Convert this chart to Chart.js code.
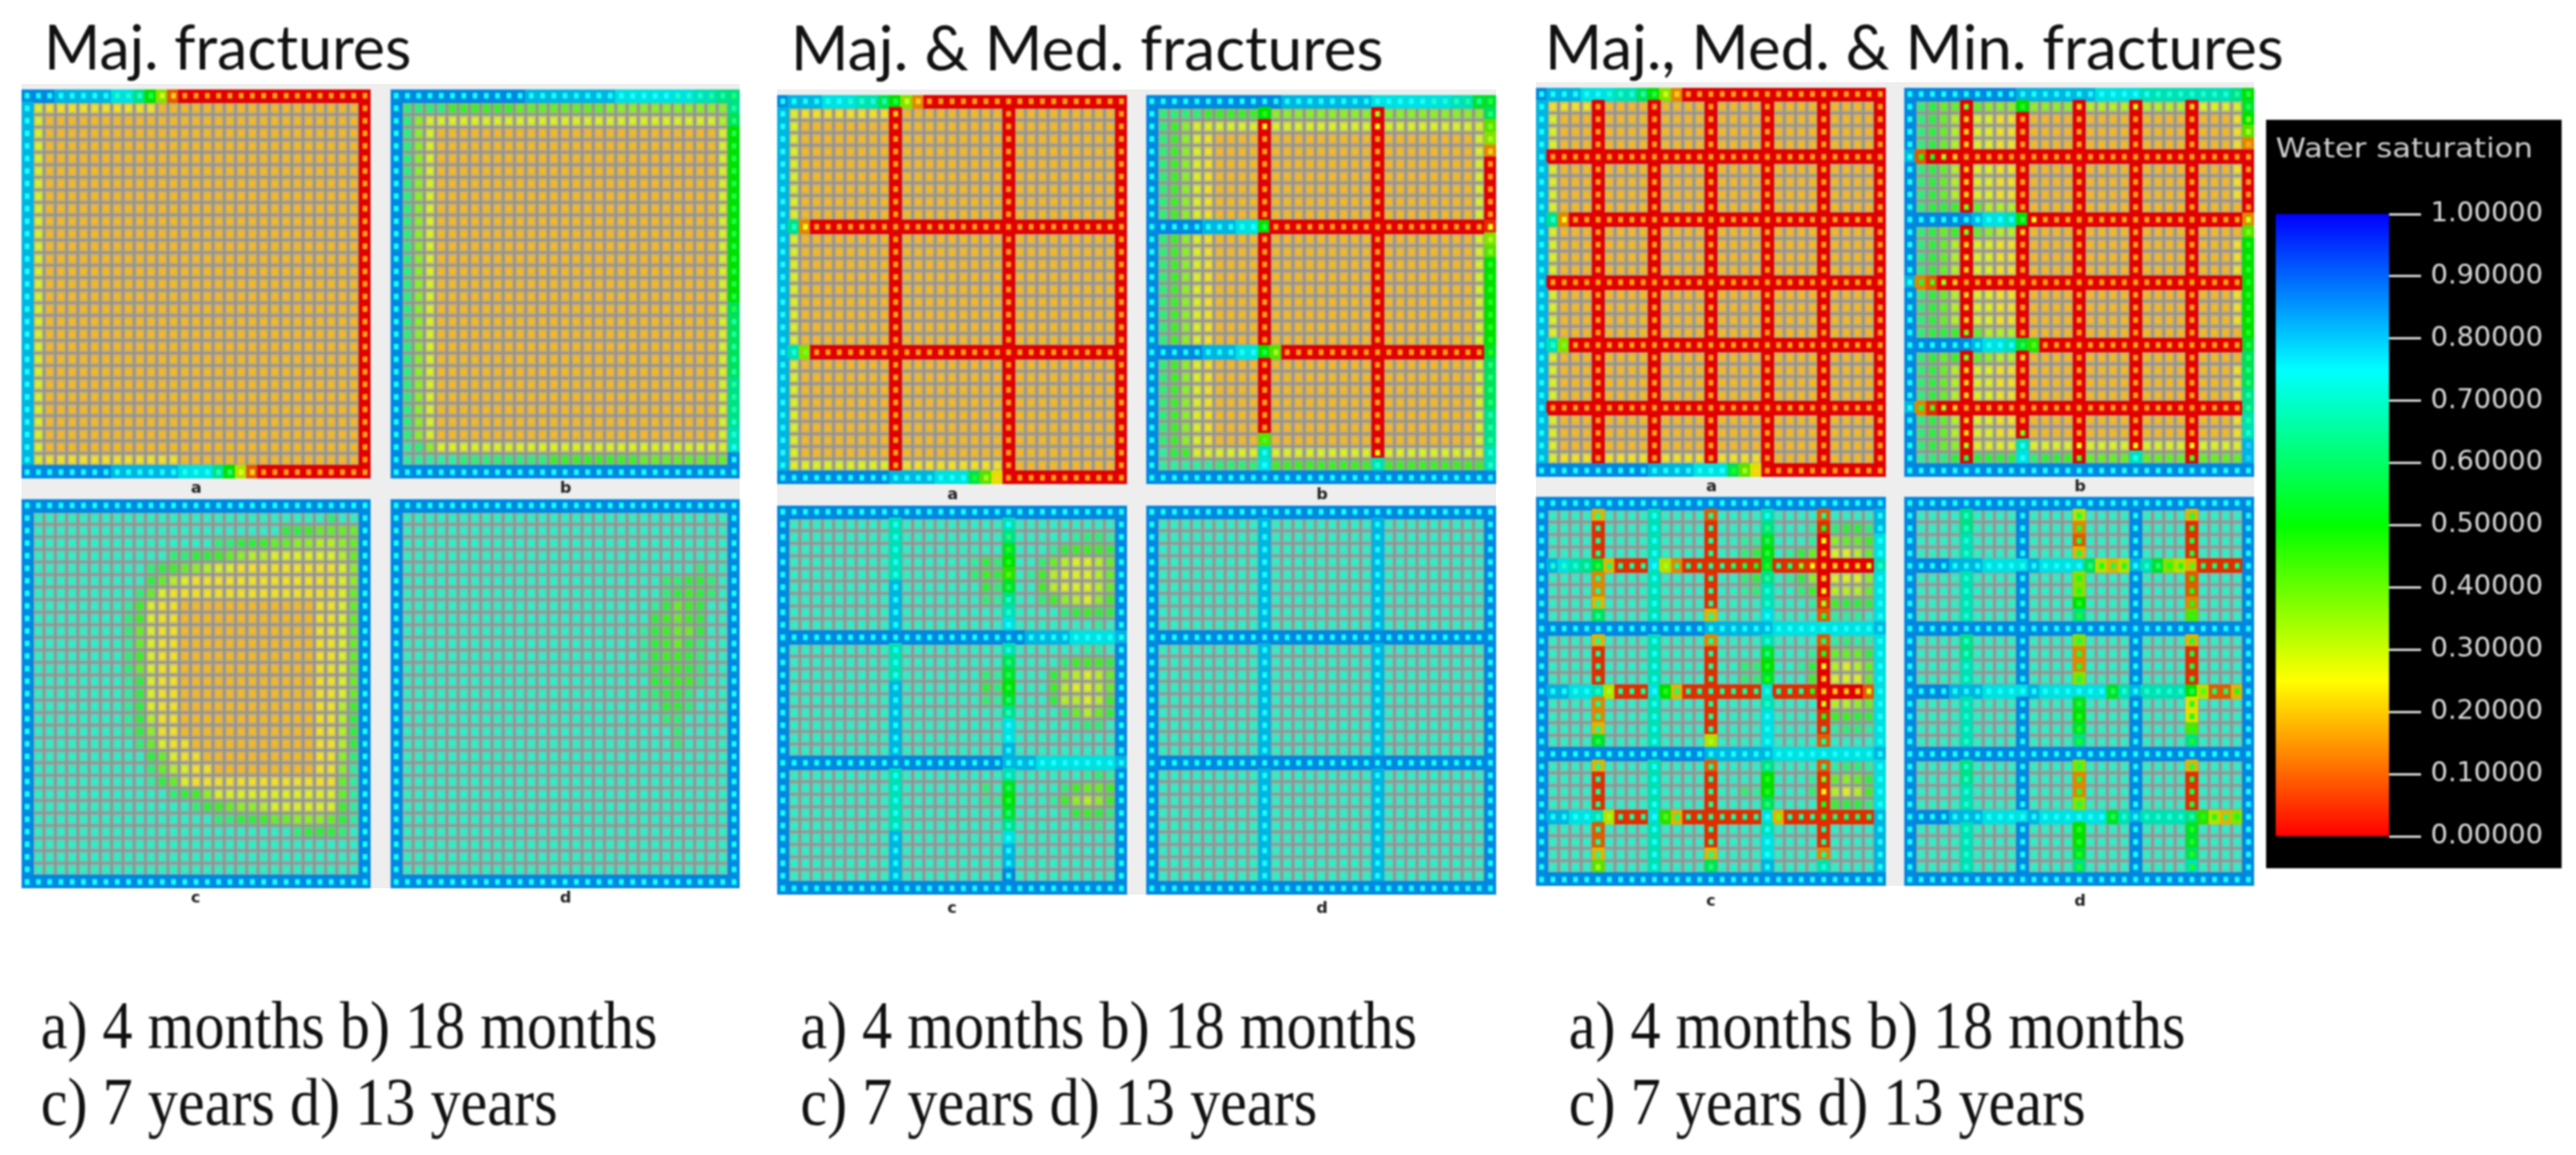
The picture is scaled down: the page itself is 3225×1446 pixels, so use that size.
<!DOCTYPE html>
<html>
<head>
<meta charset="utf-8">
<title>Water saturation</title>
<script src="https://cdn.jsdelivr.net/npm/chart.js@4"></script>
<style>
  html, body { margin: 0; padding: 0; background: #fff; }
  #page { position: relative; width: 3225px; height: 1446px; overflow: hidden; background: #fff; }
  #page canvas { position: absolute; filter: blur(1px); }
  .band { position: absolute; background: #eeeeee; }
  .txt { position: absolute; white-space: pre; transform-origin: 0 0; filter: blur(0.9px); }
</style>
</head>
<body>
<div id="page"></div>
<script>
// Saturation is written as one letter per cell: a=0.00, b=0.05, c=0.10 ... u=1.00
// Rows are run length coded, "pf29d" means p, f and then 29 times d
const satCodes = "abcdefghijklmnopqrstu";

const titles = ["Maj. fractures", "Maj. & Med. fractures", "Maj., Med. & Min. fractures"];
const captionTop = "a) 4 months b) 18 months";
const captionBottom = "c) 7 years d) 13 years";
const panelLetters = ["a", "b", "c", "d"];
const scaleTitle = "Water saturation";
const scaleTicks = [0, 0.1, 0.2, 0.3, 0.4, 0.5, 0.6, 0.7, 0.8, 0.9, 1];
const colorStops = [[0, "#ff0000"], [0.25, "#ffff00"], [0.5, "#00ff00"], [0.75, "#00ffff"], [1, "#0000ff"]];

// --- Maj. fractures ---
const majADots = ["8p3olge17d", "pf10e19d",
  "pf29d", "pf29d", "pf29d", "pf29d", "pf29d", "pf29d", "pf29d", "pf29d", "pf29d",
  "pf29d", "pf29d", "pf29d", "pf29d", "pf29d", "pf29d", "pf29d", "pf29d", "pf29d",
  "pf29d", "pf29d", "pf29d", "pf29d", "pf29d", "pf29d", "pf29d", "pf29d", "pf29d",
  "pf12e17d", "17pomge10d"];
const majALines = [["v", 0, "31q"], ["v", 30, "31a"], ["h", 0, "3r5q2pnkhc17a"], ["h", 30, "8r6q3pnkgc10a"]];

const majBDots = ["25p3o2nm", "p4l6j8i11hn", "plh26fgm",
  "plhf25dfl", "plhf25dfl", "plhf25dfl", "plhf25dfl", "plhf25dfl", "plhf25dfl", "plhf25dfl", "plhf25dfl",
  "plhf25dfl", "plhf25dfl", "plhf25dfl", "plhf25dfl", "plhf25dfl", "plhf25dfl", "plhf25dfl",
  "plhf25dfn", "plhf25dfn", "plhf25dfn", "plhf25dfn", "plhf25dfn", "plhf25dfn", "plhf25dfn", "plhf25dfn",
  "plhf25dfo", "plhf25dfo", "pmlh26fp", "p5m8l8j8ip", "31p"];
const majBLines = [["v", 0, "31r"], ["v", 30, "2nm14k6m4n2or"], ["h", 0, "12r8q7p2on"], ["h", 30, "31r"]];

const majCDots = ["31p", "p26nl2np", "p22nkkjiiiip", "p16nllkkjiihhgghip", "p12nllkkjihgg6fgip",
  "p10nlkjihgff9efhp", "p10nkigf13efhp", "p9nlif15efip",
  "p8nmjf2e12d2efip", "p8nljf2e12d2efip", "p8nlif2e12d2efip", "p8nmif2e12d2efip", "p8nljf2e12d2efip",
  "p8nlif2e12d2efip", "p8nmkf2e12d2efip", "p8nmkf2e12d2efip", "p8nmkf2e12d2egjp", "p8nmkg2e12d2egkp",
  "p8nmkh2e12d2egkp", "p9nlif2e11d2egkp", "p10nkif2e10d2ehlp", "p10nligf2e9d2ehmp", "p10nmkif13eimp",
  "p12nlkjh11fimp", "p14nlkjihhg6fjmp", "p16nllkkjiihhhikmp", "p23nlkkkl" + "np",
  "p29np", "p29np", "p29np", "31p"];
const edgesBlue = [["v", 0, "31r"], ["v", 30, "31r"], ["h", 0, "31r"], ["h", 30, "31r"]];

const majDDots = ["31p", "p29np", "p29np", "p29np", "p29np", "p26nl2np", "p23nllkkl" + "np", "p23nlkjkl" + "np",
  "p22nmkijk2np", "p22nkjijk2np", "p21nmkjiik2np", "p21nmkjikl2np", "p21nmkjjkl2np", "p21nmkjjkl2np",
  "p22nkkjjl2np", "p21nmlkkl3np", "p22nmkkl3np", "p23nll4np", "p24nl4np", "p24nl4np",
  "p29np", "p29np", "p29np", "p29np", "p29np", "p29np", "p29np", "p29np", "p29np", "p29np", "31p"];

// --- Maj. & Med. fractures ---
const medADots = ["6p3onlge18d", "pf9e20d",
  "pf29d", "pf29d", "pf29d", "pf29d", "pf29d", "pf29d", "pf29d", "pf29d",
  "pof28d",
  "pf29d", "pf29d", "pf29d", "pf29d", "pf29d", "pf29d", "pf29d", "pf29d", "pf29d",
  "poi28d",
  "pf29d", "pf29d", "pf29d", "pf29d", "pf29d", "pf29d", "pf29d", "pf29d",
  "p9fd9e11d", "17pkhe11d"];
const medALines = [["v", 0, "31q"], ["v", 10, "p29aq"], ["v", 20, "31a"], ["v", 30, "31a"],
  ["h", 0, "r3q3p2omkhd18a"], ["h", 10, "qnd28a"], ["h", 20, "qoh28a"], ["h", 30, "10r4q3pmif11a"]];

const medBDots = ["25p3o2nl", "p4l5jk19hm", "pljh26fi", "pljhfe23dfh", "pljhfe23dfe",
  "pljhfe23dfd", "pljhfe23dfd", "pljhfe23dfd", "pljhfe23dfd", "pljhfe23dfd",
  "10pl19df", "pljhfe23dfh", "pljhfe23dfi",
  "pljhfe23dfk", "pljhfe23dfk", "pljhfe23dfk", "pljhfe23dfk", "pljhfe23dfk", "pljhfe23dfk", "pljhfe23dfk",
  "10plh18dk", "pljhfe23dfm", "pljhfe23dfm", "pljhfe23dfm", "pljhfe23dfm",
  "pljhfe23dfn", "pljhfe23dfn", "pljhfe4dj18dfn", "pmkj6fp19fo", "p5m4lp9jo9jo", "31p"];
const medBLines = [["v", 0, "31r"], ["v", 10, "qk25aiopr"], ["v", 20, "q28aor"], ["v", 30, "lmihd5abhi7kl4m3n2or"],
  ["h", 0, "12r8q7p2ol"], ["h", 10, "5r3q2pk19ab"], ["h", 20, "5r3q2pki18al"], ["h", 30, "31r"]];

const medCDots = ["31p", "p9np9np9np", "p9np9nm5nmllmp", "p9np9nk3nmkjjjkp", "p9np6nmklk2nligffgip",
  "p9np6nljkjnmjgfffgip", "p9np7nkll2njgfffgip", "p9np7nlmo2nljhgfhjp", "p9np9no4nlkjkkp", "p9np9np7nmnp",
  "31p", "p9np9no6nmmnp", "p9np9nm4nljjjkp", "p9np7nlml3nkhgfgip", "p9np7nkll3njgffgip",
  "p9np7nlmm3nkggfgjp", "p9np9no4nligikp", "p9np9np5nmllnp", "p9np9np9np", "p9np9np9np",
  "31p", "p9np9no6nmlmp", "p9np7nlnl4nljiijp", "p9np7nmml3nmjhghjp", "p9np9nm4nmkjklp",
  "p9np9no6nmmnp", "p9np9np9np", "p9np9np9np", "p9np9np9np", "p9np9np9np", "31p"];
const medCLines = [["v", 0, "31r"], ["v", 30, "31r"], ["v", 10, "r5o4qr3o6qr5o4qr"],
  ["v", 20, "ronlkjlnopqomlklnppqqolklnpqqrr"],
  ["h", 0, "31r"], ["h", 30, "31r"], ["h", 10, "22r4q4pq"], ["h", 20, "20r3q7pq"]];

const medDDots = ["31p", "p9np9np9np", "p9np9np9np", "p9np9np9np", "p9np9np9np", "p9np9np9np", "p9np9np9np",
  "p9np9np9np", "p9np9np9np", "p9np9np9np", "31p", "p9np9np9np", "p9np9np9np", "p9np9np9np", "p9np9np9np",
  "p9np9np9np", "p9np9np9np", "p9np9np9np", "p9np9np9np", "p9np9np9np", "31p", "p9np9np9np", "p9np9np9np",
  "p9np9np9np", "p9np9np9np", "p9np9np9np", "p9np9np9np", "p9np9np9np", "p9np9np9np", "p9np9np9np", "31p"];
const medDLines = [["v", 0, "31r"], ["v", 30, "31r"], ["v", 10, "31q"], ["v", 20, "31q"],
  ["h", 0, "31r"], ["h", 30, "31r"], ["h", 10, "31r"], ["h", 20, "31r"]];

// --- Maj., Med. & Min. fractures ---
const minADots = ["6p3onlge18d", "p4e26d", "pf29d", "pf29d", "pf29d", "p30d",
  "pf29d", "pf29d", "pf29d", "pf29d", "pof28d",
  "pf29d", "pf29d", "pf29d", "pf29d", "p30d",
  "pf29d", "pf29d", "pf29d", "pf29d", "poi28d",
  "pf29d", "pf29d", "pf29d", "pf29d", "p30d",
  "pf29d", "pf29d", "pf29d", "pf3ed4ed4ed4e11d", "17pkhe11d"];
const minALines = [["v", 0, "31q"], ["v", 5, "p29aq"], ["v", 10, "p29aq"], ["v", 15, "p29aq"], ["v", 20, "31a"],
  ["v", 25, "31a"], ["v", 30, "31a"],
  ["h", 0, "r3q3p2omkhd18a"], ["h", 5, "q30a"], ["h", 10, "qnd28a"], ["h", 15, "q30a"], ["h", 20, "qoh28a"],
  ["h", 25, "q30a"], ["h", 30, "10r4q3pmif11a"]];

const minBDots = ["22p7onl", "plk4i3hk4he9ge4fl", "plkigeffee19dei", "plkigeffee19deh", "plkigeffee19ded",
  "pkkhe26d", "plkigeffee19ded", "plkigeffee19ded", "plkigeffee19ded", "plkkjiiggg21d",
  "10plf18dg", "plkijiihgge19di", "plkigeffee19dek", "plkigeffee19dek", "plkigeffee19dek",
  "pljhe25dk", "plkigeffee19dek", "plkigeffee19dek", "plkigeffee19dek", "plkkjiiggg20dk",
  "10plj18dl", "plkijiihgge19dm", "plkigeffee19dem", "plkigeffee19dem", "plkigeffee19den",
  "pljhe25dn", "plkigeffee19den", "plkigeffeei18deo", "plkihh4fp19fq", "pmllklkkkkplkkjj4ip4ij4iq", "31p"];
const minBLines = [["v", 0, "31r"], ["v", 5, "r9ar9ar9ar"], ["v", 10, "rk8ak9al7aopr"], ["v", 15, "p29ar"],
  ["v", 20, "p28aor"], ["v", 25, "p29ar"], ["v", 30, "klkid5adi8kl3m2n2o2qr"],
  ["h", 0, "10r7q4p8onk"], ["h", 5, "qc29a"], ["h", 10, "6rqppok19ad"], ["h", 15, "qdc27ak"],
  ["h", 20, "6rqppolj18al"], ["h", 25, "qdb27an"], ["h", 30, "31r"]];

const minCDots = ["31p", "p9np9np9np", "p9np9nm3nmklkklp", "p9np7nmml3nmfhiijp", "p9np7nlklnmkieffgip",
  "p4olm3nphn4nmlkknmif4ego", "p9np7nlknnmkhefffhp", "p9np7nmlo2nljfgggip", "p9np9no3nmhjkkkp", "p9np9np4nlmmmnp",
  "31p", "p9np9no4nmmlmmp", "p9np9nm3nmkiiikp", "p9np7nllk2nmkfgfgip", "p9np7nllk3njefffip",
  "5poh3npkm7no3nke3egp", "p9np9no4nggghip", "p9np9np4nkjjkkp", "p9np9np5nmllmp", "p4nl4np4nh4np9np",
  "31p", "p9np9nn5nmllmp", "p9np9nk3nmiihikp", "p9np7nlmk3nlfgfgjp", "p9np9nm4nkjkklp",
  "5poh3npjm7npi3nl4mp", "p9np9np9np", "p9np9np9np", "p9np9np9np", "p4nh4np4nm4np4no4np", "31p"];
const minCLines = [["v", 0, "31r"], ["v", 5, "re3blddemreb2bodd" + "elreb2bocceir"], ["v", 10, "r9oq9oq9or"],
  ["v", 15, "rc7beqd7bgqc6bemr"], ["v", 20, "ronlkknooppolkloopppp" + "nkkmooppqr"], ["v", 25, "rcb5abcpcb4a2bcpc6bdor"],
  ["v", 30, "r2q17pq5p4qr"],
  ["h", 0, "31r"], ["h", 5, "rqponlebbbpgd7bl4b5ao"], ["h", 10, "15r6q9pq"], ["h", 15, "rqqppog3bpke7bp4b4acp"],
  ["h", 20, "15r6q9pq"], ["h", 25, "rqqppog3bpje7bpe8bq"], ["h", 30, "31r"]];

const minDDots = ["31p", "p4no4np4nl4np4nl4np", "p4no4np4nl4np4nl4np", "p4no4np4nl4np4nl4np", "p4no4np4nl4np4nl4np",
  "16pmklkpomkkj4mp", "p4no4np4nk4np4nk4np", "p4no4np4nk4np4nk4np", "p4no4np4nk4np4nk4np", "p4no4np4nk4np4nk4np",
  "31p", "p4no4np4nl4np4nl4np", "p4no4np4nl4np4nl4np", "p4no4np4nl4np4nl4np", "p4no4np4nl4np4nl4np",
  "18plop4oljmmkp", "p4no4np4nk4np4nk4np", "p4no4np4nk4np4nk4np", "p4no4np4nk4np4nk4np", "p4no4np4nk4np4nk4np",
  "31p", "p4no4np4nl4np4nl4np", "p4no4np4nl4np4nl4np", "p4no4np4nl4np4nl4np", "p4no4np4nl4np4nl4np",
  "18plop4onkkmkp", "p4no4np4nk4np4nk4np", "p4no4np4nk4np4nk4np", "p4no4np4nk4np4nk4np", "p4no4np4nk4np4nk4np", "31p"];
const minDLines = [["v", 0, "31r"], ["v", 5, "r2n2oq4or2n2oq4or2n2oq4or"], ["v", 10, "31r"],
  ["v", 15, "rgdceohhknrhddholklnrhddhokklnr"], ["v", 20, "31r"], ["v", 25, "rebbbeccdirebbbnffinrebbbollmor"],
  ["v", 30, "31r"],
  ["h", 0, "31r"], ["h", 5, "4r3q4pq4pmgegqolhge4br"], ["h", 10, "31r"], ["h", 15, "4r3q4pq6ploq4okgccer"],
  ["h", 20, "31r"], ["h", 25, "4r3q4pq6ploq4onjgehr"], ["h", 30, "31r"]];

// where everything sits on the page
const panels = [
  { dots: majADots, lines: majALines, box: [27, 112, 437, 487], tag: [245, 611] },
  { dots: majBDots, lines: majBLines, box: [489, 112, 437, 487], tag: [707, 611] },
  { dots: majCDots, lines: edgesBlue, box: [27, 625, 437, 487], tag: [245, 1124] },
  { dots: majDDots, lines: edgesBlue, box: [489, 625, 437, 487], tag: [707, 1124] },
  { dots: medADots, lines: medALines, box: [973, 119, 438, 487], tag: [1192, 619] },
  { dots: medBDots, lines: medBLines, box: [1435, 119, 438, 487], tag: [1654, 619] },
  { dots: medCDots, lines: medCLines, box: [973, 633, 438, 487], tag: [1192, 1137] },
  { dots: medDDots, lines: medDLines, box: [1435, 633, 438, 487], tag: [1654, 1137] },
  { dots: minADots, lines: minALines, box: [1923, 110, 438, 487], tag: [2142, 609] },
  { dots: minBDots, lines: minBLines, box: [2384, 110, 438, 487], tag: [2603, 609] },
  { dots: minCDots, lines: minCLines, box: [1923, 622, 438, 487], tag: [2142, 1128] },
  { dots: minDDots, lines: minDLines, box: [2384, 622, 438, 487], tag: [2603, 1128] },
];

const page = document.getElementById("page");
const measure = document.createElement("canvas").getContext("2d");

function addText(str, x, base, width, size, family, color, weight) {
  const font = `${weight || "normal"} ${size}px ${family}`;
  measure.font = font;
  const m = measure.measureText(str);
  const asc = m.fontBoundingBoxAscent, desc = m.fontBoundingBoxDescent;
  const el = document.createElement("div");
  el.className = "txt";
  el.textContent = str;
  el.style.font = font;
  el.style.lineHeight = asc + desc + "px";
  el.style.left = x + "px";
  el.style.top = base - asc + "px";
  el.style.color = color;
  if (width) el.style.transform = `scaleX(${width / m.width})`;
  page.appendChild(el);
}

function addBand(x, y, w, h) {
  const el = document.createElement("div");
  el.className = "band";
  el.style.cssText = `left:${x}px;top:${y}px;width:${w}px;height:${h}px`;
  page.appendChild(el);
}

function expand(row) {
  const out = [];
  for (const m of row.matchAll(/(\d*)([a-u])/g)) {
    const n = m[1] ? parseInt(m[1]) : 1;
    for (let i = 0; i < n; i++) out.push(satCodes.indexOf(m[2]) * 0.05);
  }
  return out;
}

// same ramp as the colour bar
function jet(s) {
  const t = Math.min(1, Math.max(0, s)) * 4;
  if (t < 1) return [255, 255 * t, 0];
  if (t < 2) return [255 * (2 - t), 255, 0];
  if (t < 3) return [0, 255, 255 * (t - 2)];
  return [0, 255 * (4 - t), 255];
}
const mix = (a, b, k) => a.map((v, i) => v * (1 - k) + b[i] * k);
const css = c => `rgb(${c.map(Math.round).join(",")})`;

const sprites = {};
function cellSprite(p) {
  const key = `${p.body}_${p.dot}`;
  if (sprites[key]) return sprites[key];
  const c = document.createElement("canvas");
  const g = c.getContext("2d");
  if (p.body === null) {
    // matrix cell, dot on a tinted cell with grey grid lines
    const dot = jet(p.dot + (p.dot > 0.5 ? 0.05 : 0.03));
    c.width = 15; c.height = 17;
    g.fillStyle = "#949294";
    g.fillRect(0, 0, 15, 17);
    g.fillStyle = css(mix(dot, [172, 170, 168], 0.6));
    g.fillRect(2, 2, 11, 13);
    g.fillStyle = css(mix(dot, [195, 185, 175], 0.22));
    g.fillRect(4, 4.5, 7, 8);
  } else {
    // fracture cell, solid colour and the lighter matrix dot on top
    const dot = jet(p.dot);
    c.width = 16; c.height = 18;
    g.fillStyle = css(jet(p.body).map(v => v * 0.88));
    g.fillRect(0, 0, 16, 18);
    g.fillStyle = css(mix(dot, [255, 255, 255], 0.1));
    g.fillRect(5, 5.5, 6, 7);
  }
  sprites[key] = c;
  return c;
}

function addCanvas(x, y, w, h) {
  const c = document.createElement("canvas");
  c.width = w; c.height = h;
  c.style.left = x + "px";
  c.style.top = y + "px";
  c.style.width = w + "px";
  c.style.height = h + "px";
  page.appendChild(c);
  return c;
}

function drawPanel(panel) {
  const bodies = Array.from({ length: 31 }, () => Array(31).fill(null));
  panel.lines.forEach(([dir, idx, row]) => {
    expand(row).slice(0, 31).forEach((s, i) => {
      if (dir === "v") bodies[i][idx] = s;
      else bodies[idx][i] = s;
    });
  });
  const matrix = [], fractures = [];
  panel.dots.forEach((row, r) => {
    expand(row).slice(0, 31).forEach((s, c) => {
      const p = { x: c, y: r, dot: s, body: bodies[r][c] };
      (p.body === null ? matrix : fractures).push(p);
    });
  });
  const [x, y, w, h] = panel.box;
  new Chart(addCanvas(x, y, w, h), {
    type: "scatter",
    data: {
      datasets: [
        { data: fractures, pointStyle: ctx => cellSprite(ctx.raw), pointRadius: 6 },
        { data: matrix, pointStyle: ctx => cellSprite(ctx.raw), pointRadius: 6 },
      ],
    },
    options: {
      responsive: false,
      animation: false,
      events: [],
      layout: { padding: 0, autoPadding: false },
      plugins: { legend: { display: false }, tooltip: { enabled: false } },
      scales: {
        x: { type: "linear", display: false, min: -0.5, max: 30.5 },
        y: { type: "linear", display: false, min: -0.5, max: 30.5, reverse: true },
      },
    },
  });
}

function drawScale() {
  const c = addCanvas(2837, 150, 370, 937);
  c.style.background = "#000";
  new Chart(c, {
    type: "bar",
    data: {
      labels: [scaleTitle],
      datasets: [{
        data: [[scaleTicks[0], scaleTicks[scaleTicks.length - 1]]],
        barPercentage: 1,
        categoryPercentage: 1,
        backgroundColor: ctx => {
          const area = ctx.chart.chartArea;
          if (!area) return "#000";
          const g = ctx.chart.ctx.createLinearGradient(0, area.bottom, 0, area.top);
          colorStops.forEach(([at, col]) => g.addColorStop(at, col));
          return g;
        },
      }],
    },
    options: {
      responsive: false,
      animation: false,
      events: [],
      layout: { padding: { left: 12, top: 118, bottom: 40, right: 0 } },
      plugins: { legend: { display: false }, tooltip: { enabled: false } },
      scales: {
        x: { display: false },
        y: {
          position: "right",
          min: 0,
          max: 1,
          afterBuildTicks: axis => { axis.ticks = scaleTicks.map(v => ({ value: v })); },
          afterFit: axis => { axis.width = 216; },
          border: { display: false },
          grid: { drawOnChartArea: false, tickLength: 40, tickColor: "#d8d8d8", tickWidth: 3 },
          ticks: {
            color: "#d8d8d8",
            padding: 12,
            font: { family: "DejaVu Sans", size: 34 },
            callback: v => v.toFixed(5),
          },
        },
      },
    },
  });
}

addBand(27, 105, 899, 1007);
addBand(973, 112, 900, 1008);
addBand(1923, 103, 899, 1006);

panels.forEach((p, i) => {
  drawPanel(p);
  addText(panelLetters[i % 4], p.tag[0] - 6, p.tag[1] + 6, 0, 20, "DejaVu Sans", "#222", "bold");
});
drawScale();

addText(titles[0], 55, 87, 460, 78, "Lato", "#111");
addText(titles[1], 990, 88, 742, 78, "Lato", "#111");
addText(titles[2], 1934, 87, 925, 78, "Lato", "#111");

[51, 1002, 1964].forEach(x => {
  addText(captionTop, x, 1312, 772, 84, "Liberation Serif", "#111");
  addText(captionBottom, x, 1408, 647, 84, "Liberation Serif", "#111");
});
addText(scaleTitle, 2849, 197, 322, 34, "DejaVu Sans", "#cfcfcf");
</script>
</body>
</html>
